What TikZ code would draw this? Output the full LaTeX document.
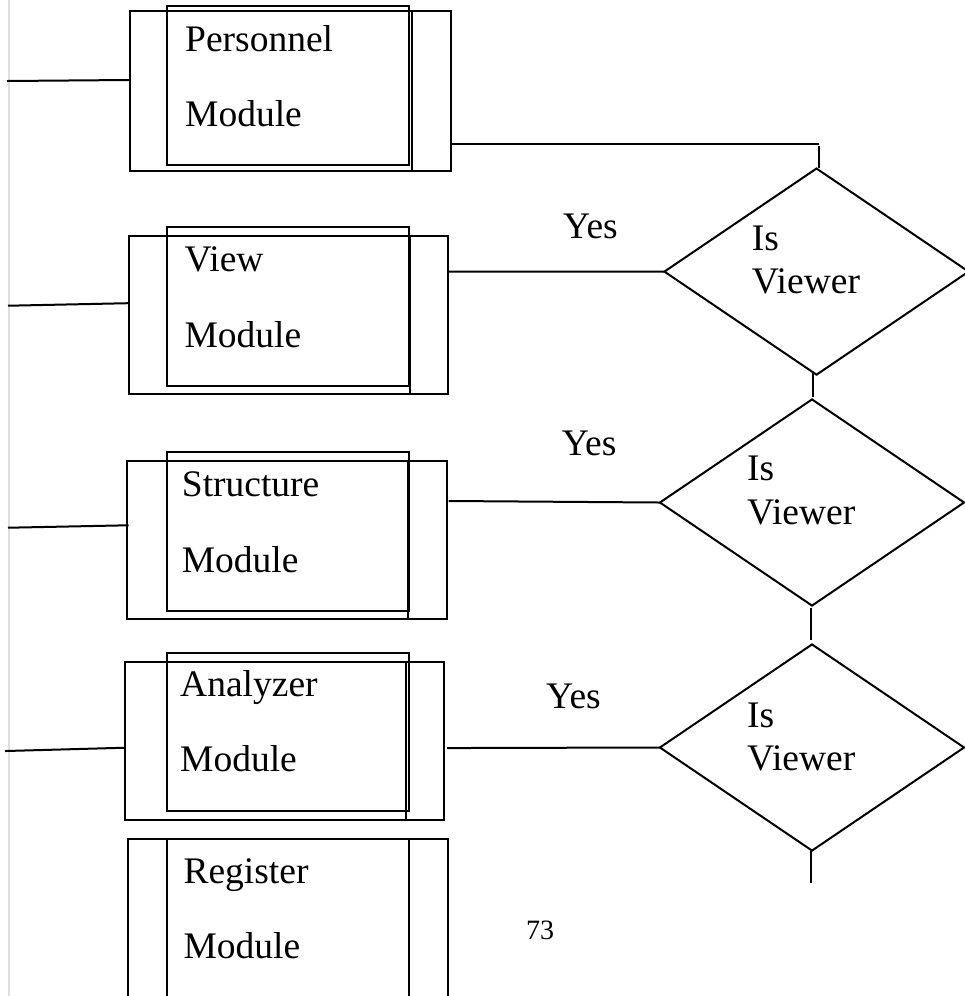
\documentclass[tikz,border=0pt]{standalone}
\usepackage{fontspec}
\setmainfont{Liberation Serif}
\usetikzlibrary{shapes.geometric}
\tikzset{
  ln/.style={line width=2pt, line cap=rect},
  outerbox/.style={draw, line width=2pt, rectangle, inner sep=0pt},
  textbox/.style={draw, line width=2.3pt, rectangle, inner sep=0pt},
  decision/.style={draw, line width=2pt, diamond, inner sep=0pt, minimum width=305pt, minimum height=207pt},
  lbl/.style={anchor=base west, inner sep=0pt, font=\fontsize{37.5}{44}\selectfont},
  pagenum/.style={anchor=base west, inner sep=0pt, font=\fontsize{28}{34}\selectfont}
}
\begin{document}
\begin{tikzpicture}[x=1pt,y=-1pt]
\useasboundingbox (0,0) rectangle (965,996);
\clip (0,0) rectangle (965,996);
\fill[white] (0,0) rectangle (965,996);
% page margin line
\draw[gray!25, line width=2pt] (8.5,0) -- (8.5,996);

% ---------- Personnel ----------
\node[outerbox, minimum width=321pt, minimum height=160pt] (pers) at (290.5,91) {};
\node[textbox, minimum width=242pt, minimum height=159pt] (persT) at (288,85.5) {};
\draw[ln] (412,11) -- (412,171);
\node[lbl] (persA) at (185,51.7) {Personnel};
\node[lbl] (persB) at (185,126.7) {Module};

% ---------- View ----------
\node[outerbox, minimum width=319pt, minimum height=158pt] (view) at (288.8,315.2) {};
\node[textbox, minimum width=242.6pt, minimum height=158.4pt] (viewT) at (288,306.5) {};
\draw[ln] (410,236) -- (410,394.3);
\node[lbl] (viewA) at (184.3,271.7) {View};
\node[lbl] (viewB) at (184.3,347.3) {Module};

% ---------- Structure ----------
\node[outerbox, minimum width=320pt, minimum height=158.6pt] (stru) at (286.7,540) {};
\node[textbox, minimum width=242.6pt, minimum height=158.7pt] (struT) at (288,531.35) {};
\draw[ln] (408.3,460.7) -- (408.3,619.3);
\node[lbl] (struA) at (181.7,496) {Structure};
\node[lbl] (struB) at (181.7,572.7) {Module};

% ---------- Analyzer ----------
\node[outerbox, minimum width=319.3pt, minimum height=158.3pt] (anal) at (284.65,740.85) {};
\node[textbox, minimum width=242.6pt, minimum height=158.3pt] (analT) at (288,731.85) {};
\draw[ln] (406,661.7) -- (406,820);
\node[lbl] (analA) at (180,696.7) {Analyzer};
\node[lbl] (analB) at (180,771.7) {Module};

% ---------- Register ----------
\node[outerbox, minimum width=319.4pt, minimum height=170pt] (regi) at (288,924.3) {};
\draw[ln] (166.7,839.3) -- (166.7,1010);
\draw[ln] (409,839.3) -- (409,1010);
\node[lbl] (regiA) at (183.3,883.3) {Register};
\node[lbl] (regiB) at (183.3,958.3) {Module};

% ---------- Decisions ----------
\node[decision] (d1) at (816.5,271.6) {};
\node[lbl] (d1a) at (751.7,250) {Is};
\node[lbl] (d1b) at (751.7,293) {Viewer};
\node[decision] (d2) at (812,502.5) {};
\node[lbl] (d2a) at (747,480) {Is};
\node[lbl] (d2b) at (747,524) {Viewer};
\node[decision] (d3) at (812,747.5) {};
\node[lbl] (d3a) at (747,727) {Is};
\node[lbl] (d3b) at (747,770) {Viewer};

% Yes labels
\node[lbl] (y1) at (563,238.3) {Yes};
\node[lbl] (y2) at (561.7,455) {Yes};
\node[lbl] (y3) at (546,708) {Yes};

% page number
\node[pagenum] (pg) at (526,939) {73};

% ---------- Connectors ----------
\coordinate (pL) at (8,81);
\coordinate (vL) at (9,305.7);
\coordinate (sL) at (9,527.7);
\coordinate (aL) at (6,751);
\draw[ln] (pL) -- ([yshift=11pt]pers.west);
\draw[ln] (vL) -- ([yshift=12pt]view.west);
\draw[ln] (sL) -- ([yshift=14.7pt,xshift=2pt]stru.west);
\draw[ln] (aL) -- ([yshift=-6.9pt]anal.west);

\coordinate (pc) at (818,143.7);
\coordinate (pc2) at (819,146.7);
\draw[ln] ([yshift=-52.7pt]pers.east) -- (pc);
\draw[ln] (pc2) -- (pc2 |- d1.north);

\draw[ln] ([yshift=43.5pt]view.east) -- (d1.west);
\draw[ln] ([yshift=39pt,xshift=2pt]stru.east) -- (d2.west);
\draw[ln] ([yshift=-7.2pt,xshift=2.7pt]anal.east) -- (d3.west);

\draw[ln] ([xshift=1pt,yshift=2pt]d2.north) -- ([xshift=1pt,yshift=2pt]d2.north |- d1.south);
\draw[ln] ([xshift=-1pt,yshift=4pt]d3.north) -- ([xshift=-1pt,yshift=-2pt]d3.north |- d2.south);
\coordinate (dEnd) at (810.7,881.7);
\draw[ln] (dEnd |- d3.south) -- (dEnd);
\end{tikzpicture}
\end{document}
